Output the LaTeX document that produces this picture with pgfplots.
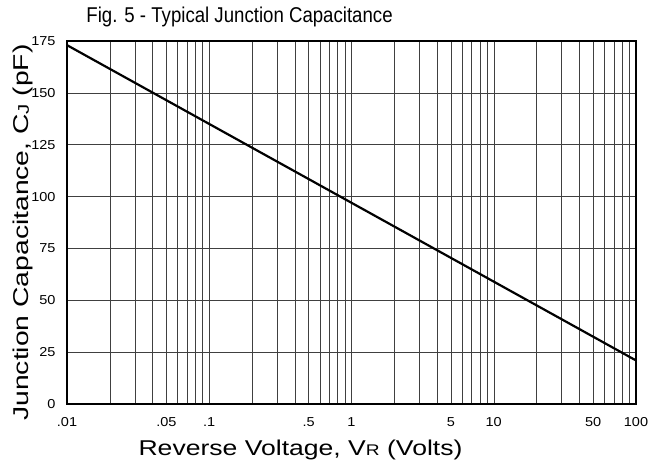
\documentclass[border=0pt]{standalone}
\usepackage{pgfplots}
\pgfplotsset{compat=1.18}
\usepackage{fontspec}
\setmainfont{Liberation Sans}
\begin{document}
\begin{tikzpicture}
\useasboundingbox (-67bp,-62bp) rectangle (586bp,404bp);
\begin{axis}[
  scale only axis,
  width=569bp, height=363bp,
  xmode=log,
  xmin=0.01, xmax=100,
  ymin=0, ymax=175,
  ytick={0,25,...,175},
  xtick={0.01,0.05,0.1,0.5,1,5,10,50,100},
  xticklabels={.01,.05,.1,.5,1,5,10,50,100},
  minor xtick={0.02,0.03,0.04,0.06,0.07,0.08,0.09,0.2,0.3,0.4,0.6,0.7,0.8,0.9,2,3,4,6,7,8,9,20,30,40,60,70,80,90},
  grid=both,
  major grid style={black!75, line width=0.5pt},
  minor grid style={black!75, line width=0.5pt},
  tick style={draw=none},
  axis line style={line width=1.6pt},
  /pgf/number format/assume math mode=true,
  ticklabel style={font=\fontsize{13}{14}\selectfont\addfontfeatures{FakeStretch=1.12}},
  xticklabel style={yshift=-10bp},
  yticklabel style={xshift=-8bp},
  xlabel={Reverse Voltage, V{\fontsize{15.5}{16}\selectfont R} (Volts)},
  ylabel={Junction Capacitance, C{\fontsize{15.5}{16}\selectfont J} (pF)},
  xlabel style={font=\fontsize{21.5}{22}\selectfont\addfontfeatures{FakeStretch=1.24}, yshift=-6bp, xshift=-51bp},
  ylabel style={font=\fontsize{21.5}{22}\selectfont\addfontfeatures{FakeStretch=1.32}, yshift=-9bp, xshift=-10bp},
  title={Fig. 5 - Typical Junction Capacitance},
  title style={font=\fontsize{21.5}{22}\selectfont\addfontfeatures{FakeStretch=0.87}, anchor=base west, at={(0.028,1)}, yshift=13bp},
]
\addplot[black, line width=2.2pt] coordinates {(0.01,173) (100,21)};
\end{axis}
\end{tikzpicture}
\end{document}
